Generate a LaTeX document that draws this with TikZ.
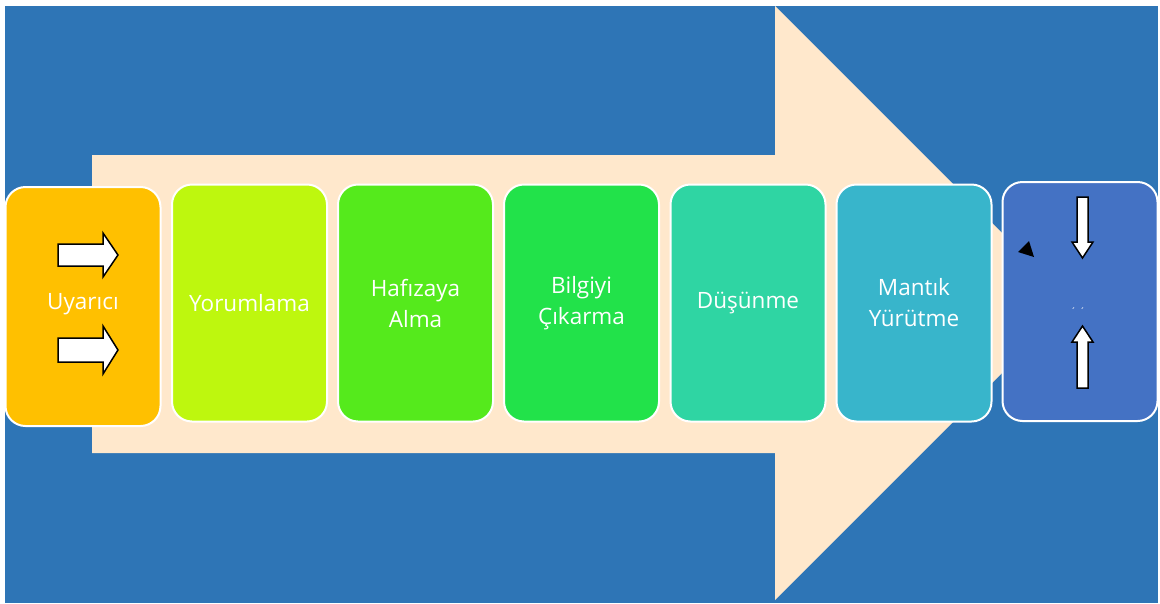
\documentclass[tikz,border=0pt]{standalone}
\usepackage{fontspec}
\setmainfont{Open Sans}
\definecolor{bgblue}{HTML}{2E75B6}
\definecolor{arrowfill}{HTML}{FFE8CC}
\definecolor{cA}{HTML}{FFC000}
\definecolor{cB}{HTML}{BEF70E}
\definecolor{cC}{HTML}{55EA1C}
\definecolor{cD}{HTML}{22E24A}
\definecolor{cE}{HTML}{2FD5A3}
\definecolor{cF}{HTML}{38B5CB}
\definecolor{cG}{HTML}{4472C4}
\tikzset{
  stagebox/.style={draw=white, line width=2pt, rounded corners=20pt, minimum width=155pt, minimum height=237pt,
    text=white, align=center, inner sep=0pt, font=\fontsize{22.5}{31}\selectfont},
  blockarrow/.style={draw=black, fill=white, line width=1.5pt, line join=miter}
}
\begin{document}
\begin{tikzpicture}[x=1pt,y=-1pt]
\useasboundingbox (0,0) rectangle (1160,603);
\fill[white] (0,0) rectangle (1160,603);
\fill[bgblue] (5,6) rectangle (1158,603);
% big arrow
\fill[arrowfill] (92,155) -- (775,155) -- (775,6) -- (1072,303) -- (775,600) -- (775,453) -- (92,453) -- cycle;
% boxes
\node[stagebox, fill=cA, minimum height=239pt] (b1) at (83,306.5) {};
\node[stagebox, fill=cB] (b2) at (249.5,303) {Yorumlama};
\node[stagebox, fill=cC] (b3) at (415.5,303) {Hafızaya\\Alma};
\node[stagebox, fill=cD] (b4) at (581.5,303) {Bilgiyi\\Çıkarma};
\node[stagebox, fill=cE] (b5) at (748,303) {Düşünme};
\node[stagebox, fill=cF] (b6) at (914,303) {Mantık\\Yürütme};
\node[stagebox, fill=cG, minimum height=239pt] (b7) at (1080,301.5) {};
\node[text=white, font=\fontsize{22.5}{31}\selectfont] (t1) at (83,304) {Uyarıcı};
% block arrows in box 1
\draw[blockarrow] (58,244) -- (103,244) -- (103,233) -- (118,255) -- (103,277) -- (103,266) -- (58,266) -- cycle;
\draw[blockarrow] (58,338) -- (103,338) -- (103,326) -- (118,350) -- (103,374) -- (103,362) -- (58,362) -- cycle;
% block arrows in box 7
\draw[blockarrow] (1077,197) -- (1088,197) -- (1088,242) -- (1093,242) -- (1082.5,258) -- (1072,242) -- (1077,242) -- cycle;
\draw[blockarrow] (1077,388) -- (1088,388) -- (1088,342) -- (1093,342) -- (1082.5,326) -- (1072,342) -- (1077,342) -- cycle;
% small black triangle
\fill[black] (1029,241) -- (1018,252) -- (1034,257) -- cycle;
% tiny marks
\node[text=white, font=\fontsize{10}{10}\selectfont, inner sep=0pt] (marks) at (1078,312) {´\,\,´};
\end{tikzpicture}
\end{document}
